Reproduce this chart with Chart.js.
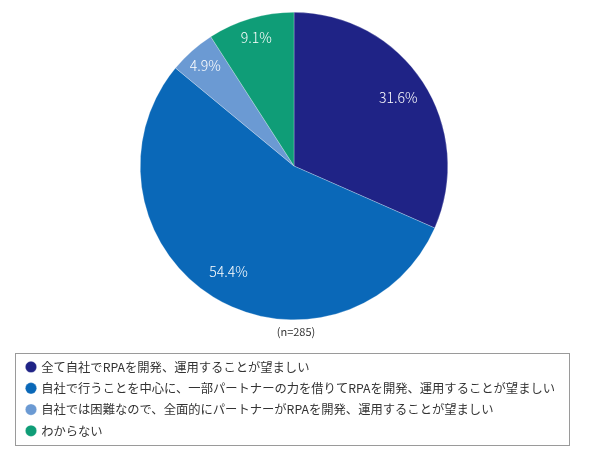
<!DOCTYPE html>
<html lang="ja">
<head>
    <meta charset="UTF-8">
    <title>RPA開発・運用の望ましい体制</title>
    <script src="https://cdn.jsdelivr.net/npm/chart.js"></script>
    <style>
        body { margin: 0; padding: 0; background: #ffffff; }
        #wrap { width: 590px; height: 467px; }
    </style>
</head>
<body>
<div id="wrap"><canvas id="grafico"></canvas></div>

<script>
    // datos del gráfico
    const categorias = [
        '全て自社でRPAを開発、運用することが望ましい',
        '自社で行うことを中心に、一部パートナーの力を借りてRPAを開発、運用することが望ましい',
        '自社では困難なので、全面的にパートナーがRPAを開発、運用することが望ましい',
        'わからない'
    ];
    const porcentajes = [31.6, 54.4, 4.9, 9.1];
    const colores = ['#1f2386', '#0a68b8', '#6b9ad3', '#0f9d77'];
    const nota = '(n=285)';

    const fuente = "'Noto Sans CJK JP', 'Noto Sans', sans-serif";

    // etiquetas blancas dentro de cada porción
    const etiquetasPlugin = {
        id: 'etiquetas',
        afterDatasetsDraw(chart) {
            const ctx = chart.ctx;
            const meta = chart.getDatasetMeta(0);
            ctx.save();
            ctx.fillStyle = '#ffffff';
            ctx.font = '300 14px ' + fuente;
            ctx.textAlign = 'center';
            ctx.textBaseline = 'middle';
            meta.data.forEach((arc, i) => {
                const p = arc.getProps(['x', 'y', 'startAngle', 'endAngle', 'outerRadius'], true);
                const mid = (p.startAngle + p.endAngle) / 2;
                const f = porcentajes[i] > 20 ? 0.81 : 0.87;
                const x = p.x + Math.cos(mid) * p.outerRadius * f;
                const y = p.y + Math.sin(mid) * p.outerRadius * f;
                ctx.fillText(porcentajes[i].toFixed(1) + '%', x, y);
            });
            ctx.restore();
        }
    };

    // nota (n=) bajo el gráfico y marco alrededor de la leyenda
    const marcoPlugin = {
        id: 'marco',
        afterDraw(chart) {
            const lg = chart.legend;
            if (!lg || !lg.legendHitBoxes.length) return;
            const hb = lg.legendHitBoxes;
            const last = hb[hb.length - 1];
            const ctx = chart.ctx;
            ctx.save();
            ctx.fillStyle = '#333333';
            ctx.font = '11px ' + fuente;
            ctx.textAlign = 'center';
            ctx.textBaseline = 'middle';
            ctx.fillText(nota, (chart.chartArea.left + chart.chartArea.right) / 2 + 2, lg.top + 12);

            ctx.strokeStyle = '#9a9a9a';
            ctx.lineWidth = 1;
            const top = hb[0].top - 7.5;
            const bottom = last.top + last.height + 8;
            ctx.strokeRect(lg.left - 3 + 0.5, Math.round(top) + 0.5, lg.right - lg.left + 2, Math.round(bottom - top));
            ctx.restore();
        }
    };

    new Chart(document.getElementById('grafico'), {
        type: 'pie',
        data: {
            labels: categorias,
            datasets: [{
                data: porcentajes,
                backgroundColor: colores,
                borderColor: 'rgba(255,255,255,0.5)',
                borderWidth: 0.5
            }]
        },
        options: {
            responsive: true,
            maintainAspectRatio: false,
            animation: false,
            layout: { padding: { top: 12, left: 18, right: 20, bottom: 20 } },
            plugins: {
                tooltip: { enabled: false },
                legend: {
                    position: 'bottom',
                    align: 'start',
                    labels: {
                        usePointStyle: true,
                        pointStyle: 'circle',
                        boxWidth: 8,
                        boxHeight: 8,
                        padding: 9,
                        color: '#333333',
                        font: { family: fuente, size: 12.3 }
                    },
                    // espacio reservado para la nota
                    title: {
                        display: true,
                        text: '',
                        padding: { top: 7, bottom: 11.5 },
                        font: { family: fuente, size: 11 }
                    }
                }
            }
        },
        plugins: [etiquetasPlugin, marcoPlugin]
    });
</script>
</body>
</html>
